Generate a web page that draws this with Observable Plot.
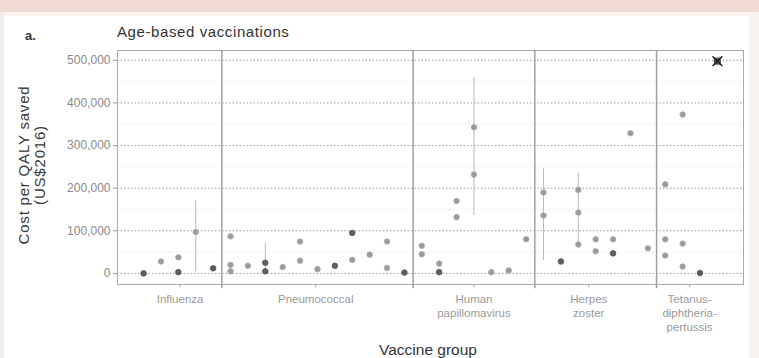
<!DOCTYPE html>
<html>
<head>
<meta charset="utf-8">
<script src="https://cdn.jsdelivr.net/npm/d3@7"></script>
<script src="https://cdn.jsdelivr.net/npm/@observablehq/plot@0.6"></script>
<style>
  html, body { margin: 0; padding: 0; background: #fff; }
  #wrap { position: relative; width: 759px; height: 358px; overflow: hidden; font-family: "Liberation Sans", Arial, sans-serif; }
  .band { position: absolute; }
  .lbl { position: absolute; white-space: nowrap; color: #2a2a2a; }
</style>
</head>
<body>
<div id="wrap">
  <div class="band" style="left:0;top:0;width:759px;height:12px;background:#f1d9d4;"></div>
  <div class="band" style="left:0;top:12px;width:759px;height:4px;background:#fbf4ee;"></div>
  <div class="band" style="left:0;top:12px;width:4px;height:346px;background:#f6eeea;"></div>
  <div class="band" style="left:749px;top:12px;width:10px;height:346px;background:#f5f2f0;"></div>
  <div id="chart" style="position:absolute;left:0;top:0;"></div>
  <div class="lbl" style="left:25px;top:28px;font-size:13px;font-weight:bold;color:#333;">a.</div>
  <div class="lbl" style="left:117px;top:23px;font-size:15px;letter-spacing:0.6px;color:#333;">Age-based vaccinations</div>
  <div class="lbl" style="left:32px;top:165px;font-size:15px;letter-spacing:0.8px;text-align:center;line-height:16px;color:#3a3a3a;transform:translate(-50%,-50%) rotate(-90deg);">Cost per QALY saved<br>(US$2016)</div>
  <div class="lbl" style="left:428px;top:341px;font-size:15.5px;color:#333;transform:translateX(-50%);">Vaccine group</div>
</div>
<script>
// Vaccine groups, their tick positions and separators (study slot units)
const groupLabels = ["Influenza", "Pneumococcal", "Human\npapillomavirus", "Herpes\nzoster", "Tetanus-\ndiphtheria-\npertussis"];
const groupTicks = [2.1, 9.9, 19, 25.6, 31.4];
const separators = [4.5, 15.5, 22.5, 29.5];
const yTicks = [0, 100000, 200000, 300000, 400000, 500000];
const yMinor = [50000, 150000, 250000, 350000, 450000];

// Point estimates: study slot, cost per QALY saved, shade (1 = darker)
const ptSlot  = [0, 1, 2, 2, 3, 4,
                 5, 5, 5, 6, 7, 7, 8, 9, 9, 10, 11, 12, 12, 13, 14, 14, 15,
                 16, 16, 17, 17, 18, 18, 19, 19, 20, 21, 22,
                 23, 23, 24, 25, 25, 25, 26, 26, 27, 27, 28, 29,
                 30, 30, 30, 31, 31, 31, 32];
const ptValue = [0, 28000, 38000, 3000, 97000, 12000,
                 87000, 20000, 5000, 18000, 25000, 5000, 15000, 75000, 30000, 10000, 18000, 95000, 32000, 44000, 75000, 13000, 2000,
                 65000, 45000, 23000, 3000, 170000, 132000, 343000, 232000, 3000, 7000, 80000,
                 190000, 136000, 28000, 196000, 143000, 68000, 80000, 52000, 80000, 47000, 329000, 59000,
                 209000, 80000, 42000, 373000, 70000, 16000, 1000];
const ptShade = [1, 0, 0, 1, 0, 1,
                 0, 0, 0, 0, 1, 1, 0, 0, 0, 0, 1, 1, 0, 0, 0, 0, 1,
                 0, 0, 0, 1, 0, 0, 0, 0, 0, 0, 0,
                 0, 0, 1, 0, 0, 0, 0, 0, 0, 1, 0, 0,
                 0, 0, 0, 0, 0, 0, 1];

// Ranges (error bars)
const errSlot = [3, 7, 19, 23, 25];
const errLo   = [5000, 0, 136000, 30000, 60000];
const errHi   = [170000, 70000, 460000, 245000, 235000];

// Off-scale estimate marked with a cross
const offSlot = [33];
const offValue = [498000];

const points = ptSlot.map((s, i) => ({slot: s, value: ptValue[i], dark: ptShade[i] === 1}));
const errs = errSlot.map((s, i) => ({slot: s, lo: errLo[i], hi: errHi[i]}));
const offs = offSlot.map((s, i) => ({slot: s, value: offValue[i]}));
const labelOf = new Map(groupTicks.map((t, i) => [t, groupLabels[i]]));

const yBottom = -26000, yTop = 523000;

const chart = Plot.plot({
  width: 759,
  height: 358,
  marginLeft: 117,
  marginRight: 16,
  marginTop: 50,
  marginBottom: 74,
  style: {background: "transparent", fontFamily: "Liberation Sans, Arial, sans-serif"},
  x: {domain: [-1.5, 34.5]},
  y: {domain: [yBottom, yTop]},
  marks: [
    Plot.ruleY(yMinor, {stroke: "#d8d8d8", strokeDasharray: "1,3"}),
    Plot.ruleY(yTicks, {stroke: "#9a9a9a", strokeDasharray: "1.5,2"}),
    Plot.frame({stroke: "#aaa"}),
    Plot.ruleX(separators, {y1: yTop, y2: -36000, stroke: "#a0a0a0", strokeWidth: 1.5}),
    Plot.ruleX(groupTicks, {y1: yBottom, y2: -34000, stroke: "#aaa"}),
    Plot.ruleX(errs, {x: "slot", y1: "lo", y2: "hi", stroke: "#b8b8b8", strokeWidth: 1}),
    Plot.dot(points, {x: "slot", y: "value", r: 2.8, fill: d => d.dark ? "#5e5e5e" : "#9a9a9a", stroke: d => d.dark ? "#555" : "#b0b0b0", strokeWidth: 0.8}),
    Plot.dot(offs, {x: "slot", y: "value", r: 4, symbol: "square", fill: "#555"}),
    Plot.dot(offs, {x: "slot", y: "value", r: 4.5, symbol: "times", stroke: "#222", strokeWidth: 1.5}),
    Plot.axisY(yTicks, {tickFormat: d3.format(","), tickSize: 4, tickPadding: 3, fontSize: 12, color: "#8a8a8a", stroke: "#999", label: null}),
    Plot.axisX(groupTicks, {tickFormat: d => labelOf.get(d), tickSize: 0, tickPadding: 9, fontSize: 11.5, color: "#9a9a9a", label: null, lineHeight: 1.2})
  ]
});
document.getElementById("chart").appendChild(chart);
</script>
</body>
</html>
